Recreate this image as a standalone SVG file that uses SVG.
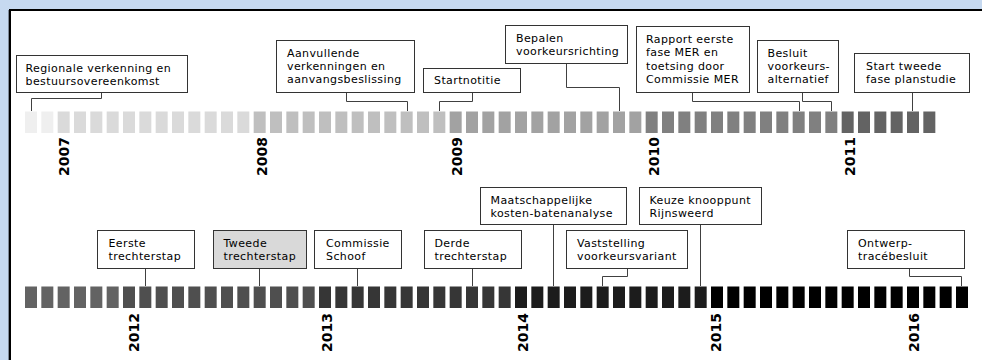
<svg xmlns="http://www.w3.org/2000/svg" width="982" height="360" viewBox="0 0 982 360">
  <style>
    .box { fill: #ffffff; stroke: #333333; stroke-width: 1; }
    .box.hl { fill: #d9d9d9; }
    .lbl { font-family: "DejaVu Sans", Verdana, sans-serif; font-size: 11px; letter-spacing: 0.4px; fill: #000000; }
    .yr { font-family: "DejaVu Sans", Verdana, sans-serif; font-size: 14px; font-weight: bold; fill: #000000; }
    .conn path { fill: none; stroke: #404040; stroke-width: 1; }
    .y06 { fill: #efefef; } .y07 { fill: #dadada; } .y08 { fill: #bfbfbf; }
    .y09 { fill: #a2a2a2; } .y10 { fill: #808080; } .y11 { fill: #636363; }
    .y12 { fill: #4f4f4f; } .y13 { fill: #363636; } .y14 { fill: #1c1c1c; }
    .y15 { fill: #000000; } .y16 { fill: #000000; }
  </style>
  <defs>
    <rect id="m" width="12" height="21.5"/>
  </defs>

  <!-- frame -->
  <rect x="0" y="0" width="982" height="360" fill="#c6d9f0"/>
  <rect x="10" y="10" width="990" height="370" fill="#ffffff" stroke="#000000" stroke-width="2"/>
  <line x1="8.5" y1="10" x2="8.5" y2="360" stroke="#7f8a99" stroke-width="1"/>

  <!-- month blocks, upper row: Nov 2006 - Jun 2011 -->
  <g id="row-top">
    <use href="#m" class="y06" x="25" y="111.5"/>
    <use href="#m" class="y06" x="41.33" y="111.5"/>
    <use href="#m" class="y07" x="57.67" y="111.5"/>
    <use href="#m" class="y07" x="74" y="111.5"/>
    <use href="#m" class="y07" x="90.33" y="111.5"/>
    <use href="#m" class="y07" x="106.67" y="111.5"/>
    <use href="#m" class="y07" x="123" y="111.5"/>
    <use href="#m" class="y07" x="139.33" y="111.5"/>
    <use href="#m" class="y07" x="155.67" y="111.5"/>
    <use href="#m" class="y07" x="172" y="111.5"/>
    <use href="#m" class="y07" x="188.33" y="111.5"/>
    <use href="#m" class="y07" x="204.67" y="111.5"/>
    <use href="#m" class="y07" x="221" y="111.5"/>
    <use href="#m" class="y07" x="237.33" y="111.5"/>
    <use href="#m" class="y08" x="253.67" y="111.5"/>
    <use href="#m" class="y08" x="270" y="111.5"/>
    <use href="#m" class="y08" x="286.33" y="111.5"/>
    <use href="#m" class="y08" x="302.67" y="111.5"/>
    <use href="#m" class="y08" x="319" y="111.5"/>
    <use href="#m" class="y08" x="335.33" y="111.5"/>
    <use href="#m" class="y08" x="351.67" y="111.5"/>
    <use href="#m" class="y08" x="368" y="111.5"/>
    <use href="#m" class="y08" x="384.33" y="111.5"/>
    <use href="#m" class="y08" x="400.67" y="111.5"/>
    <use href="#m" class="y08" x="417" y="111.5"/>
    <use href="#m" class="y08" x="433.33" y="111.5"/>
    <use href="#m" class="y09" x="449.67" y="111.5"/>
    <use href="#m" class="y09" x="466" y="111.5"/>
    <use href="#m" class="y09" x="482.33" y="111.5"/>
    <use href="#m" class="y09" x="498.67" y="111.5"/>
    <use href="#m" class="y09" x="515" y="111.5"/>
    <use href="#m" class="y09" x="531.33" y="111.5"/>
    <use href="#m" class="y09" x="547.67" y="111.5"/>
    <use href="#m" class="y09" x="564" y="111.5"/>
    <use href="#m" class="y09" x="580.33" y="111.5"/>
    <use href="#m" class="y09" x="596.67" y="111.5"/>
    <use href="#m" class="y09" x="613" y="111.5"/>
    <use href="#m" class="y09" x="629.33" y="111.5"/>
    <use href="#m" class="y10" x="645.67" y="111.5"/>
    <use href="#m" class="y10" x="662" y="111.5"/>
    <use href="#m" class="y10" x="678.33" y="111.5"/>
    <use href="#m" class="y10" x="694.67" y="111.5"/>
    <use href="#m" class="y10" x="711" y="111.5"/>
    <use href="#m" class="y10" x="727.33" y="111.5"/>
    <use href="#m" class="y10" x="743.67" y="111.5"/>
    <use href="#m" class="y10" x="760" y="111.5"/>
    <use href="#m" class="y10" x="776.33" y="111.5"/>
    <use href="#m" class="y10" x="792.67" y="111.5"/>
    <use href="#m" class="y10" x="809" y="111.5"/>
    <use href="#m" class="y10" x="825.33" y="111.5"/>
    <use href="#m" class="y11" x="841.67" y="111.5"/>
    <use href="#m" class="y11" x="858" y="111.5"/>
    <use href="#m" class="y11" x="874.33" y="111.5"/>
    <use href="#m" class="y11" x="890.67" y="111.5"/>
    <use href="#m" class="y11" x="907" y="111.5"/>
    <use href="#m" class="y11" x="923.33" y="111.5"/>
  </g>

  <!-- month blocks, lower row: Jul 2011 - Apr 2016 -->
  <g id="row-bottom">
    <use href="#m" class="y11" x="25" y="286.5"/>
    <use href="#m" class="y11" x="41.33" y="286.5"/>
    <use href="#m" class="y11" x="57.67" y="286.5"/>
    <use href="#m" class="y11" x="74" y="286.5"/>
    <use href="#m" class="y11" x="90.33" y="286.5"/>
    <use href="#m" class="y11" x="106.67" y="286.5"/>
    <use href="#m" class="y12" x="123" y="286.5"/>
    <use href="#m" class="y12" x="139.33" y="286.5"/>
    <use href="#m" class="y12" x="155.67" y="286.5"/>
    <use href="#m" class="y12" x="172" y="286.5"/>
    <use href="#m" class="y12" x="188.33" y="286.5"/>
    <use href="#m" class="y12" x="204.67" y="286.5"/>
    <use href="#m" class="y12" x="221" y="286.5"/>
    <use href="#m" class="y12" x="237.33" y="286.5"/>
    <use href="#m" class="y12" x="253.67" y="286.5"/>
    <use href="#m" class="y12" x="270" y="286.5"/>
    <use href="#m" class="y12" x="286.33" y="286.5"/>
    <use href="#m" class="y12" x="302.67" y="286.5"/>
    <use href="#m" class="y13" x="319" y="286.5"/>
    <use href="#m" class="y13" x="335.33" y="286.5"/>
    <use href="#m" class="y13" x="351.67" y="286.5"/>
    <use href="#m" class="y13" x="368" y="286.5"/>
    <use href="#m" class="y13" x="384.33" y="286.5"/>
    <use href="#m" class="y13" x="400.67" y="286.5"/>
    <use href="#m" class="y13" x="417" y="286.5"/>
    <use href="#m" class="y13" x="433.33" y="286.5"/>
    <use href="#m" class="y13" x="449.67" y="286.5"/>
    <use href="#m" class="y13" x="466" y="286.5"/>
    <use href="#m" class="y13" x="482.33" y="286.5"/>
    <use href="#m" class="y13" x="498.67" y="286.5"/>
    <use href="#m" class="y14" x="515" y="286.5"/>
    <use href="#m" class="y14" x="531.33" y="286.5"/>
    <use href="#m" class="y14" x="547.67" y="286.5"/>
    <use href="#m" class="y14" x="564" y="286.5"/>
    <use href="#m" class="y14" x="580.33" y="286.5"/>
    <use href="#m" class="y14" x="596.67" y="286.5"/>
    <use href="#m" class="y14" x="613" y="286.5"/>
    <use href="#m" class="y14" x="629.33" y="286.5"/>
    <use href="#m" class="y14" x="645.67" y="286.5"/>
    <use href="#m" class="y14" x="662" y="286.5"/>
    <use href="#m" class="y14" x="678.33" y="286.5"/>
    <use href="#m" class="y14" x="694.67" y="286.5"/>
    <use href="#m" class="y15" x="711" y="286.5"/>
    <use href="#m" class="y15" x="727.33" y="286.5"/>
    <use href="#m" class="y15" x="743.67" y="286.5"/>
    <use href="#m" class="y15" x="760" y="286.5"/>
    <use href="#m" class="y15" x="776.33" y="286.5"/>
    <use href="#m" class="y15" x="792.67" y="286.5"/>
    <use href="#m" class="y15" x="809" y="286.5"/>
    <use href="#m" class="y15" x="825.33" y="286.5"/>
    <use href="#m" class="y15" x="841.67" y="286.5"/>
    <use href="#m" class="y15" x="858" y="286.5"/>
    <use href="#m" class="y15" x="874.33" y="286.5"/>
    <use href="#m" class="y15" x="890.67" y="286.5"/>
    <use href="#m" class="y16" x="907" y="286.5"/>
    <use href="#m" class="y16" x="923.33" y="286.5"/>
    <use href="#m" class="y16" x="939.67" y="286.5"/>
    <use href="#m" class="y16" x="956" y="286.5"/>
  </g>

  <!-- year labels -->
  <g id="years">
    <text class="yr" transform="translate(68.5,176) rotate(-90)">2007</text>
    <text class="yr" transform="translate(267,176) rotate(-90)">2008</text>
    <text class="yr" transform="translate(462,176) rotate(-90)">2009</text>
    <text class="yr" transform="translate(658.5,176) rotate(-90)">2010</text>
    <text class="yr" transform="translate(854.5,176) rotate(-90)">2011</text>
    <text class="yr" transform="translate(138.5,352) rotate(-90)">2012</text>
    <text class="yr" transform="translate(331.5,352) rotate(-90)">2013</text>
    <text class="yr" transform="translate(527.5,352) rotate(-90)">2014</text>
    <text class="yr" transform="translate(721,352) rotate(-90)">2015</text>
    <text class="yr" transform="translate(918.5,352) rotate(-90)">2016</text>
  </g>

  <!-- leader lines from boxes to months -->
  <g id="connectors" class="conn">
    <path d="M101.5,92.5 V98.5 H31.5 V111"/>
    <path d="M346.5,92.5 V101.5 H407.5 V111"/>
    <path d="M472.5,92.5 V101.5 H439.5 V111"/>
    <path d="M566.5,63.5 V87.5 H619.5 V111"/>
    <path d="M692.5,92.5 V101.5 H799.5 V111"/>
    <path d="M802.5,92.5 V101.5 H831.5 V111"/>
    <path d="M912.5,92.5 V111"/>
    <path d="M145.5,268.5 V286"/>
    <path d="M259.5,268.5 V286"/>
    <path d="M357.5,268.5 V286"/>
    <path d="M472.5,268.5 V286"/>
    <path d="M553.5,224.5 V286"/>
    <path d="M627.5,268.5 V276.5 H602.5 V286"/>
    <path d="M700.5,224.5 V286"/>
    <path d="M909.5,268.5 V276.5 H961.5 V286"/>
  </g>

  <!-- milestones 2006-2011 -->
  <g id="regionale-verkenning">
    <rect class="box" x="16.5" y="55.5" width="171" height="37"/>
    <text class="lbl" x="25.5" y="72">Regionale verkenning en</text>
    <text class="lbl" x="25.5" y="85">bestuursovereenkomst</text>
  </g>
  <g id="aanvullende-verkenningen">
    <rect class="box" x="276.5" y="40.5" width="138" height="52"/>
    <text class="lbl" x="287" y="57">Aanvullende</text>
    <text class="lbl" x="287" y="70.2">verkenningen en</text>
    <text class="lbl" x="287" y="83.4">aanvangsbeslissing</text>
  </g>
  <g id="startnotitie">
    <rect class="box" x="423.5" y="68.5" width="97" height="24"/>
    <text class="lbl" x="434" y="84">Startnotitie</text>
  </g>
  <g id="voorkeursrichting">
    <rect class="box" x="505.5" y="25.5" width="122" height="38"/>
    <text class="lbl" x="516" y="42">Bepalen</text>
    <text class="lbl" x="516" y="55.2">voorkeursrichting</text>
  </g>
  <g id="rapport-mer">
    <rect class="box" x="636.5" y="26.5" width="113" height="66"/>
    <text class="lbl" x="646" y="43">Rapport eerste</text>
    <text class="lbl" x="646" y="56.3">fase MER en</text>
    <text class="lbl" x="646" y="69.6">toetsing door</text>
    <text class="lbl" x="646" y="82.9">Commissie MER</text>
  </g>
  <g id="voorkeursalternatief">
    <rect class="box" x="757.5" y="40.5" width="81" height="52"/>
    <text class="lbl" x="767.5" y="57">Besluit</text>
    <text class="lbl" x="767.5" y="70.2">voorkeurs-</text>
    <text class="lbl" x="767.5" y="83.4">alternatief</text>
  </g>
  <g id="tweede-fase">
    <rect class="box" x="854.5" y="53.5" width="115" height="39"/>
    <text class="lbl" x="866" y="70">Start tweede</text>
    <text class="lbl" x="866" y="83.2">fase planstudie</text>
  </g>

  <!-- milestones 2011-2016 -->
  <g id="eerste-trechterstap">
    <rect class="box" x="97.5" y="230.5" width="97" height="38"/>
    <text class="lbl" x="108.5" y="247">Eerste</text>
    <text class="lbl" x="108.5" y="260">trechterstap</text>
  </g>
  <g id="tweede-trechterstap">
    <rect class="box hl" x="213.5" y="230.5" width="93" height="38"/>
    <text class="lbl" x="223.5" y="247">Tweede</text>
    <text class="lbl" x="223.5" y="260">trechterstap</text>
  </g>
  <g id="commissie-schoof">
    <rect class="box" x="314.5" y="230.5" width="87" height="38"/>
    <text class="lbl" x="326" y="247">Commissie</text>
    <text class="lbl" x="326" y="260">Schoof</text>
  </g>
  <g id="derde-trechterstap">
    <rect class="box" x="424.5" y="230.5" width="97" height="38"/>
    <text class="lbl" x="434.5" y="247">Derde</text>
    <text class="lbl" x="434.5" y="260">trechterstap</text>
  </g>
  <g id="mkba">
    <rect class="box" x="480.5" y="187.5" width="146" height="37"/>
    <text class="lbl" x="490.5" y="204">Maatschappelijke</text>
    <text class="lbl" x="490.5" y="217">kosten-batenanalyse</text>
  </g>
  <g id="voorkeursvariant">
    <rect class="box" x="566.5" y="230.5" width="121" height="38"/>
    <text class="lbl" x="577" y="247">Vaststelling</text>
    <text class="lbl" x="577" y="260">voorkeursvariant</text>
  </g>
  <g id="knooppunt-rijnsweerd">
    <rect class="box" x="639.5" y="187.5" width="122" height="37"/>
    <text class="lbl" x="649.5" y="204">Keuze knooppunt</text>
    <text class="lbl" x="649.5" y="217">Rijnsweerd</text>
  </g>
  <g id="ontwerp-tracebesluit">
    <rect class="box" x="847.5" y="230.5" width="117" height="38"/>
    <text class="lbl" x="858" y="247">Ontwerp-</text>
    <text class="lbl" x="858" y="260">tracébesluit</text>
  </g>
</svg>
